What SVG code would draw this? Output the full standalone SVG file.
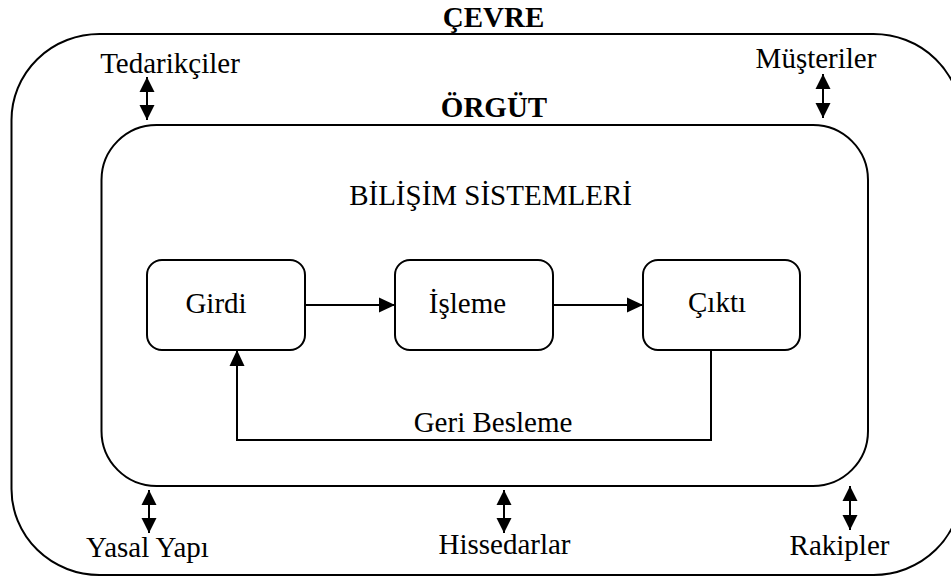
<svg xmlns="http://www.w3.org/2000/svg" width="951" height="579" viewBox="0 0 951 579">
  <style>
    .frame { fill: none; stroke: #000; stroke-width: 2; }
    .box { fill: #fff; stroke: #000; stroke-width: 2; }
    .lbl { font-family: "Liberation Serif", "Times New Roman", serif; font-size: 29px; fill: #000; text-anchor: middle; }
    .bold { font-weight: bold; }
    .wire { fill: none; stroke: #000; stroke-width: 2; }
  </style>
  <defs>
    <marker id="head" markerUnits="userSpaceOnUse" markerWidth="16" markerHeight="16" refX="16" refY="8" orient="auto">
      <path d="M0,0.5 L16,8 L0,15.5 z" fill="#000"/>
    </marker>
    <marker id="tip" markerUnits="userSpaceOnUse" markerWidth="15" markerHeight="16" refX="15" refY="8" orient="auto-start-reverse">
      <path d="M0,0.5 L15,8 L0,15.5 z" fill="#000"/>
    </marker>
  </defs>

  <rect width="951" height="579" fill="#fff"/>

  <!-- Environment -->
  <g id="cevre">
    <rect class="frame" x="11.5" y="34" width="950" height="541" rx="88" ry="86"/>
    <text class="lbl bold" x="493.5" y="27">ÇEVRE</text>
  </g>

  <!-- Organisation -->
  <g id="orgut">
    <rect class="frame" x="101.5" y="125" width="766.5" height="361" rx="55" ry="55"/>
    <text class="lbl bold" x="494" y="117">ÖRGÜT</text>
    <text class="lbl" x="490.5" y="205">BİLİŞİM SİSTEMLERİ</text>
  </g>

  <!-- Stakeholders -->
  <g id="tedarikciler"><text class="lbl" x="170" y="73">Tedarikçiler</text></g>
  <g id="musteriler"><text class="lbl" x="816" y="68">Müşteriler</text></g>
  <g id="yasal-yapi"><text class="lbl" x="147.5" y="557">Yasal Yapı</text></g>
  <g id="hissedarlar"><text class="lbl" x="504.5" y="554">Hissedarlar</text></g>
  <g id="rakipler"><text class="lbl" x="839.5" y="555">Rakipler</text></g>

  <!-- Process steps -->
  <g id="girdi">
    <rect class="box" x="147" y="260" width="158" height="90" rx="15" ry="15"/>
    <text class="lbl" x="216" y="313">Girdi</text>
  </g>
  <g id="isleme">
    <rect class="box" x="395" y="260" width="158" height="90" rx="15" ry="15"/>
    <text class="lbl" x="467.5" y="313">İşleme</text>
  </g>
  <g id="cikti">
    <rect class="box" x="643" y="260" width="157" height="90" rx="15" ry="15"/>
    <text class="lbl" x="717" y="312">Çıktı</text>
  </g>

  <!-- Connectors -->
  <g id="connectors">
    <line class="wire" x1="305" y1="305" x2="395" y2="305" marker-end="url(#head)"/>
    <line class="wire" x1="553" y1="305" x2="643" y2="305" marker-end="url(#head)"/>
    <polyline class="wire" points="711,350 711,440 237,440 237,350" marker-end="url(#head)"/>
    <text class="lbl" x="493" y="432">Geri Besleme</text>

    <line class="wire" x1="147" y1="77" x2="147" y2="120" marker-start="url(#tip)" marker-end="url(#tip)"/>
    <line class="wire" x1="823" y1="74" x2="823" y2="118" marker-start="url(#tip)" marker-end="url(#tip)"/>
    <line class="wire" x1="149" y1="490" x2="149" y2="533" marker-start="url(#tip)" marker-end="url(#tip)"/>
    <line class="wire" x1="504" y1="490" x2="504" y2="533" marker-start="url(#tip)" marker-end="url(#tip)"/>
    <line class="wire" x1="850" y1="486" x2="850" y2="530" marker-start="url(#tip)" marker-end="url(#tip)"/>
  </g>
</svg>
